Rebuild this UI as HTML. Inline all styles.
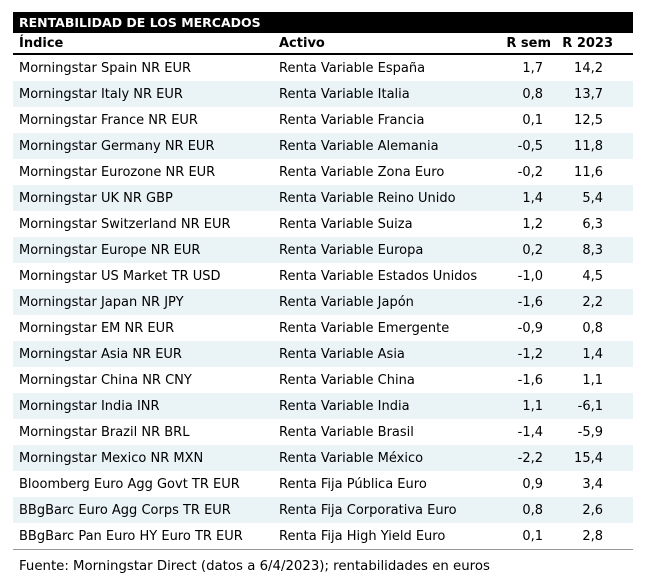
<!DOCTYPE html>
<html><head><meta charset="utf-8"><style>
body{margin:0;background:#fff;width:651px;height:584px;position:relative;font-family:"DejaVu Sans",Verdana,sans-serif;font-size:13px;color:#000}
.t{position:absolute;left:13px;top:12px;width:620px;height:21px;background:#000;color:#fff;font-weight:bold;font-size:12.5px;line-height:21px;text-indent:6px}
.r{position:absolute;left:13px;width:620px;height:26px;line-height:27px}
.r span{position:absolute;white-space:nowrap}
.a{left:6px}.b{left:266px}.c{right:90px}.d{right:30px}
.s{background:#eaf4f6}
.h{font-weight:bold;top:33px;height:20px;line-height:22px;border-bottom:2px solid #000}
.f{position:absolute;left:19px;top:559px;font-size:13.3px}
</style></head><body>
<div class="t">RENTABILIDAD DE LOS MERCADOS</div>
<div class="r h"><span class="a">Índice</span><span class="b">Activo</span><span class="c" style="right:82px">R sem</span><span class="d" style="right:20px">R 2023</span></div>
<div class="r" style="top:55px"><span class="a">Morningstar Spain NR EUR</span><span class="b">Renta Variable España</span><span class="c">1,7</span><span class="d">14,2</span></div>
<div class="r s" style="top:81px"><span class="a">Morningstar Italy NR EUR</span><span class="b">Renta Variable Italia</span><span class="c">0,8</span><span class="d">13,7</span></div>
<div class="r" style="top:107px"><span class="a">Morningstar France NR EUR</span><span class="b">Renta Variable Francia</span><span class="c">0,1</span><span class="d">12,5</span></div>
<div class="r s" style="top:133px"><span class="a">Morningstar Germany NR EUR</span><span class="b">Renta Variable Alemania</span><span class="c">-0,5</span><span class="d">11,8</span></div>
<div class="r" style="top:159px"><span class="a">Morningstar Eurozone NR EUR</span><span class="b">Renta Variable Zona Euro</span><span class="c">-0,2</span><span class="d">11,6</span></div>
<div class="r s" style="top:185px"><span class="a">Morningstar UK NR GBP</span><span class="b">Renta Variable Reino Unido</span><span class="c">1,4</span><span class="d">5,4</span></div>
<div class="r" style="top:211px"><span class="a">Morningstar Switzerland NR EUR</span><span class="b">Renta Variable Suiza</span><span class="c">1,2</span><span class="d">6,3</span></div>
<div class="r s" style="top:237px"><span class="a">Morningstar Europe NR EUR</span><span class="b">Renta Variable Europa</span><span class="c">0,2</span><span class="d">8,3</span></div>
<div class="r" style="top:263px"><span class="a">Morningstar US Market TR USD</span><span class="b">Renta Variable Estados Unidos</span><span class="c">-1,0</span><span class="d">4,5</span></div>
<div class="r s" style="top:289px"><span class="a">Morningstar Japan NR JPY</span><span class="b">Renta Variable Japón</span><span class="c">-1,6</span><span class="d">2,2</span></div>
<div class="r" style="top:315px"><span class="a">Morningstar EM NR EUR</span><span class="b">Renta Variable Emergente</span><span class="c">-0,9</span><span class="d">0,8</span></div>
<div class="r s" style="top:341px"><span class="a">Morningstar Asia NR EUR</span><span class="b">Renta Variable Asia</span><span class="c">-1,2</span><span class="d">1,4</span></div>
<div class="r" style="top:367px"><span class="a">Morningstar China NR CNY</span><span class="b">Renta Variable China</span><span class="c">-1,6</span><span class="d">1,1</span></div>
<div class="r s" style="top:393px"><span class="a">Morningstar India INR</span><span class="b">Renta Variable India</span><span class="c">1,1</span><span class="d">-6,1</span></div>
<div class="r" style="top:419px"><span class="a">Morningstar Brazil NR BRL</span><span class="b">Renta Variable Brasil</span><span class="c">-1,4</span><span class="d">-5,9</span></div>
<div class="r s" style="top:445px"><span class="a">Morningstar Mexico NR MXN</span><span class="b">Renta Variable México</span><span class="c">-2,2</span><span class="d">15,4</span></div>
<div class="r" style="top:471px"><span class="a">Bloomberg Euro Agg Govt TR EUR</span><span class="b">Renta Fija Pública Euro</span><span class="c">0,9</span><span class="d">3,4</span></div>
<div class="r s" style="top:497px"><span class="a">BBgBarc Euro Agg Corps TR EUR</span><span class="b">Renta Fija Corporativa Euro</span><span class="c">0,8</span><span class="d">2,6</span></div>
<div class="r" style="top:523px;border-bottom:1px solid #999"><span class="a">BBgBarc Pan Euro HY Euro TR EUR</span><span class="b">Renta Fija High Yield Euro</span><span class="c">0,1</span><span class="d">2,8</span></div>
<div class="f">Fuente: Morningstar Direct (datos a 6/4/2023); rentabilidades en euros</div>
</body></html>
